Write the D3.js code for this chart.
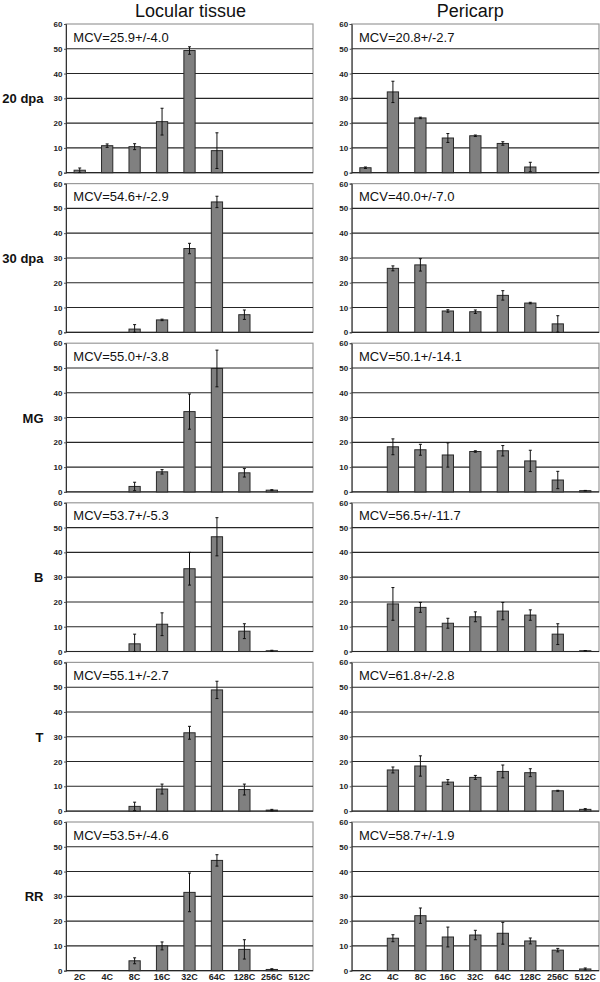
<!DOCTYPE html>
<html><head><meta charset="utf-8">
<script src="https://cdn.jsdelivr.net/npm/d3@7"></script>
<style>html,body{margin:0;padding:0;background:#fff;}</style>
</head><body>
<script>
const categories = ["2C","4C","8C","16C","32C","64C","128C","256C","512C"];
const stages = ["20 dpa","30 dpa","MG","B","T","RR"];
const tissues = ["Locular tissue","Pericarp"];
const yTicks = [0,10,20,30,40,50,60];

const locularMCV = ["MCV=25.9+/-4.0","MCV=54.6+/-2.9","MCV=55.0+/-3.8","MCV=53.7+/-5.3","MCV=55.1+/-2.7","MCV=53.5+/-4.6"];
const pericarpMCV = ["MCV=20.8+/-2.7","MCV=40.0+/-7.0","MCV=50.1+/-14.1","MCV=56.5+/-11.7","MCV=61.8+/-2.8","MCV=58.7+/-1.9"];

// Locular tissue: mean % and error per ploidy class
const locular20dpa    = [1.0,10.9,10.5,20.6,49.3,8.9,0,0,0];
const locular20dpaErr = [0.9,0.7,1.2,5.4,1.5,7.2,0,0,0];
const locular30dpa    = [0,0,1.3,5.0,33.8,52.6,7.1,0,0];
const locular30dpaErr = [0,0,1.8,0.3,2.1,2.3,1.9,0,0];
const locularMG       = [0,0,2.2,8.1,32.4,49.8,7.7,0.7,0];
const locularMGErr    = [0,0,1.7,0.9,7.1,7.4,1.7,0.2,0];
const locularB        = [0,0,3.1,11.0,33.4,46.3,8.2,0.3,0];
const locularBErr     = [0,0,3.9,4.6,6.6,7.7,3.0,0.2,0];
const locularT        = [0,0,1.9,8.9,31.6,48.9,8.7,0.4,0];
const locularTErr     = [0,0,1.7,2.0,2.6,3.5,2.2,0.3,0];
const locularRR       = [0,0,4.0,10.0,31.6,44.5,8.6,0.5,0];
const locularRRErr    = [0,0,1.2,1.6,7.8,2.3,3.9,0.3,0];

// Pericarp
const pericarp20dpa    = [2.0,32.6,22.1,14.0,14.9,11.8,2.3,0,0];
const pericarp20dpaErr = [0.3,4.3,0.3,1.8,0.3,0.7,1.9,0,0];
const pericarp30dpa    = [0,25.8,27.2,8.6,8.3,14.9,11.8,3.4,0];
const pericarp30dpaErr = [0,1.0,2.5,0.5,0.7,1.9,0.3,3.3,0];
const pericarpMG       = [0,18.2,17.0,14.9,16.3,16.6,12.5,4.8,0.5];
const pericarpMGErr    = [0,3.2,2.2,4.9,0.3,2.1,4.3,3.5,0.1];
const pericarpB        = [0,19.2,17.8,11.4,14.0,16.3,14.7,7.0,0.3];
const pericarpBErr     = [0,6.6,2.0,2.0,2.0,3.5,2.1,4.2,0.1];
const pericarpT        = [0,16.6,18.2,11.7,13.6,16.0,15.5,8.2,0.7];
const pericarpTErr     = [0,1.2,4.1,1.0,0.8,2.6,1.6,0.2,0.3];
const pericarpRR       = [0,13.1,22.2,13.6,14.4,15.1,12.0,8.3,0.7];
const pericarpRRErr    = [0,1.4,3.1,4.0,1.9,4.4,1.2,0.7,0.4];

const locularData = [
  [locular20dpa, locular20dpaErr],[locular30dpa, locular30dpaErr],[locularMG, locularMGErr],
  [locularB, locularBErr],[locularT, locularTErr],[locularRR, locularRRErr]];
const pericarpData = [
  [pericarp20dpa, pericarp20dpaErr],[pericarp30dpa, pericarp30dpaErr],[pericarpMG, pericarpMGErr],
  [pericarpB, pericarpBErr],[pericarpT, pericarpTErr],[pericarpRR, pericarpRRErr]];

const W = 600, H = 982;
const svg = d3.select("body").append("svg").attr("width", W).attr("height", H)
  .style("font-family", "Arial, 'Liberation Sans', Helvetica, sans-serif");

const cols = [{x0: 66, x1: 313}, {x0: 351.7, x1: 599}];
const panelTop0 = 24, panelStep = 159.6, panelH = 148.7;

// Column titles
tissues.forEach((t, c) => {
  svg.append("text").attr("x", (cols[c].x0 + cols[c].x1) / 2 + (c === 0 ? 1 : -5)).attr("y", 17)
    .attr("text-anchor", "middle").attr("font-size", 18).attr("fill", "#111").text(t);
});

const dataSets = [locularData, pericarpData];
const mcvs = [locularMCV, pericarpMCV];

stages.forEach((stage, r) => {
  const top = panelTop0 + r * panelStep;
  const y = d3.scaleLinear().domain([0, 60]).range([top + panelH, top]);
  // row label
  svg.append("text").attr("x", 43.5).attr("y", y(30) + 5).attr("text-anchor", "end")
    .attr("font-size", 13).attr("font-weight", "bold").attr("fill", "#111").text(stage);

  cols.forEach((col, c) => {
    const x = d3.scaleBand().domain(categories).range([col.x0, col.x1])
      .paddingInner(0.59).paddingOuter(0.295);
    const g = svg.append("g");
    // frame
    g.append("rect").attr("x", col.x0).attr("y", y(60)).attr("width", col.x1 - col.x0)
      .attr("height", y(0) - y(60)).attr("fill", "#fff").attr("stroke", "#9a9a9a").attr("stroke-width", 1.2);
    // grid lines
    g.selectAll("line.grid").data(yTicks.filter(t => t > 0 && t < 60)).join("line")
      .attr("x1", col.x0).attr("x2", col.x1).attr("y1", d => y(d)).attr("y2", d => y(d))
      .attr("stroke", "#262626").attr("stroke-width", 1.1);
    // axis
    const ax = g.append("g").attr("transform", `translate(${col.x0},0)`)
      .call(d3.axisLeft(y).tickValues(yTicks).tickSize(2).tickPadding(1.5).tickFormat(d3.format("d")));
    ax.select(".domain").attr("stroke", "#333");
    ax.selectAll(".tick line").attr("stroke", "#555");
    ax.selectAll("text").attr("font-size", 8).attr("font-weight", "bold").attr("fill", "#222")
      .attr("font-family", "Arial, 'Liberation Sans', sans-serif");
    // zero line
    g.append("line").attr("x1", col.x0).attr("x2", col.x1).attr("y1", y(0)).attr("y2", y(0))
      .attr("stroke", "#262626").attr("stroke-width", 1.2);

    const [vals, errs] = dataSets[c][r];
    const rows = categories.map((k, i) => ({k, v: vals[i], e: errs[i]})).filter(d => d.v > 0);
    g.selectAll("rect.bar").data(rows).join("rect")
      .attr("x", d => x(d.k)).attr("width", x.bandwidth())
      .attr("y", d => y(d.v)).attr("height", d => y(0) - y(d.v))
      .attr("fill", "#808080").attr("stroke", "#2a2a2a").attr("stroke-width", 1);
    const eb = g.selectAll("g.err").data(rows.filter(d => d.e > 0)).join("g");
    eb.append("line")
      .attr("x1", d => x(d.k) + x.bandwidth() / 2).attr("x2", d => x(d.k) + x.bandwidth() / 2)
      .attr("y1", d => y(Math.max(0, d.v - d.e))).attr("y2", d => y(d.v + d.e))
      .attr("stroke", "#111").attr("stroke-width", 1);
    eb.append("line")
      .attr("x1", d => x(d.k) + x.bandwidth() / 2 - 1.5).attr("x2", d => x(d.k) + x.bandwidth() / 2 + 1.5)
      .attr("y1", d => y(d.v + d.e)).attr("y2", d => y(d.v + d.e))
      .attr("stroke", "#111").attr("stroke-width", 1);
    eb.append("line")
      .attr("x1", d => x(d.k) + x.bandwidth() / 2 - 1.5).attr("x2", d => x(d.k) + x.bandwidth() / 2 + 1.5)
      .attr("y1", d => y(Math.max(0, d.v - d.e))).attr("y2", d => y(Math.max(0, d.v - d.e)))
      .attr("stroke", "#111").attr("stroke-width", 1);
    // MCV label
    g.append("text").attr("x", col.x0 + 7.3).attr("y", y(60) + 17.5)
      .attr("font-size", 13).attr("fill", "#111").text(mcvs[c][r]);

    // category labels on last row
    if (r === stages.length - 1) {
      g.selectAll("text.cat").data(categories).join("text")
        .attr("x", d => x(d) + x.bandwidth() / 2).attr("y", 979.5)
        .attr("text-anchor", "middle").attr("font-size", 9).attr("font-weight", "bold")
        .attr("fill", "#222").text(d => d);
    }
  });
});
</script>
</body></html>
